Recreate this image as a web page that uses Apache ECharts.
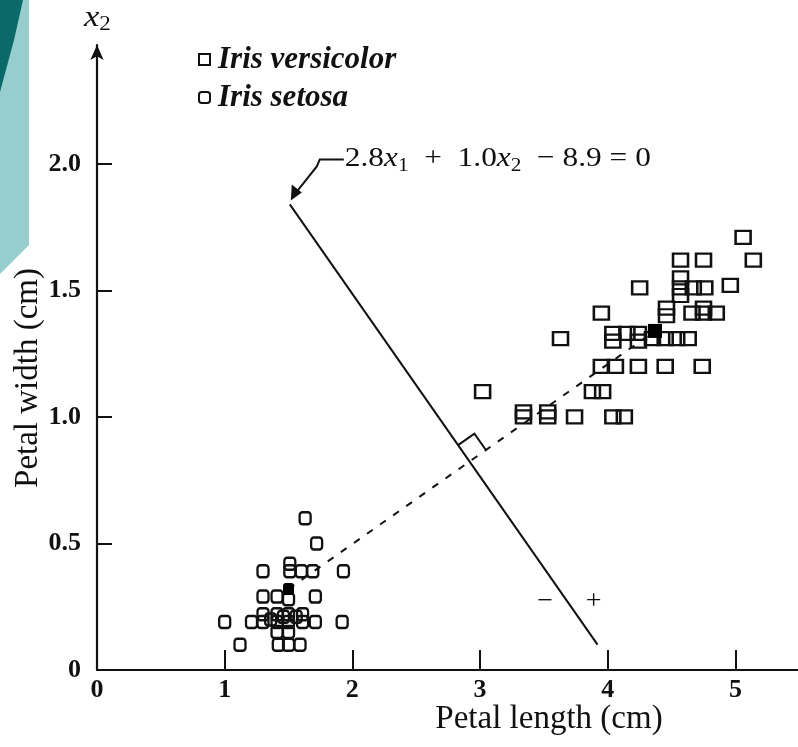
<!DOCTYPE html>
<html>
<head>
<meta charset="utf-8">
<script src="https://cdn.jsdelivr.net/npm/echarts@6/dist/echarts.min.js"></script>
<style>
  html, body { margin: 0; padding: 0; background: #fff; }
  #main { width: 798px; height: 747px; }
</style>
</head>
<body>
<div id="main"></div>
<script>
// petal length / width
var versicolor = [
  [5.06, 1.71],
  [4.57, 1.62], [4.75, 1.62], [5.14, 1.62],
  [4.25, 1.51], [4.57, 1.55], [4.57, 1.51], [4.57, 1.48], [4.67, 1.51], [4.76, 1.51], [4.96, 1.52],
  [3.95, 1.41], [4.46, 1.43], [4.46, 1.40], [4.66, 1.41], [4.75, 1.43], [4.75, 1.41], [4.85, 1.41],
  [3.63, 1.31], [4.04, 1.33], [4.04, 1.30], [4.15, 1.33], [4.24, 1.33], [4.24, 1.30], [4.35, 1.31],
  [4.45, 1.31], [4.54, 1.31], [4.63, 1.31],
  [3.95, 1.20], [4.06, 1.20], [4.24, 1.20], [4.45, 1.20], [4.74, 1.20],
  [3.02, 1.10], [3.88, 1.10], [3.96, 1.10],
  [3.34, 1.02], [3.34, 1.00], [3.53, 1.02], [3.53, 1.00], [3.74, 1.00], [4.04, 1.00], [4.13, 1.00]
];
var setosa = [
  [1.63, 0.60], [1.72, 0.50],
  [1.30, 0.39], [1.51, 0.42], [1.51, 0.39], [1.60, 0.39], [1.69, 0.39], [1.93, 0.39],
  [1.30, 0.29], [1.41, 0.29], [1.50, 0.28], [1.71, 0.29],
  [1.00, 0.19], [1.21, 0.19], [1.30, 0.19], [1.41, 0.19], [1.50, 0.19], [1.61, 0.19], [1.71, 0.19], [1.92, 0.19],
  [1.30, 0.22], [1.41, 0.22], [1.50, 0.22], [1.61, 0.22], [1.36, 0.20], [1.46, 0.21], [1.56, 0.21],
  [1.41, 0.15], [1.50, 0.15],
  [1.12, 0.10], [1.42, 0.10], [1.50, 0.10], [1.59, 0.10]
];
var setosaMean = [1.50, 0.32];
var versicolorMean = [4.37, 1.34];
var boundary = [[1.51, 1.84], [3.92, 0.10]];
var signs = [['−', 3.51, 0.27], ['+', 3.89, 0.27]];
var xTicks = [1, 2, 3, 4, 5];
var xLabels = [0, 1, 2, 3, 4, 5];
var yTicks = [0.5, 1.0, 1.5, 2.0];
var yLabels = [0, 0.5, 1.0, 1.5, 2.0];

var serif = 'Liberation Serif';
var myChart = echarts.init(document.getElementById('main'));
var option = {
  backgroundColor: '#fff',
  animation: false,
  textStyle: { fontFamily: serif, color: '#111' },
  grid: { left: 97, right: 0, top: 45, bottom: 77 },
  legend: {
    orient: 'vertical',
    left: 193,
    top: 39,
    itemGap: 7,
    itemWidth: 11,
    itemHeight: 11,
    textStyle: { fontFamily: serif, fontStyle: 'italic', fontWeight: 'bold', fontSize: 31, color: '#111', padding: [0, 0, 0, 3] },
    data: [
      { name: 'Iris versicolor', icon: 'rect', itemStyle: { color: '#fff', borderColor: '#111', borderWidth: 2 } },
      { name: 'Iris setosa', icon: 'roundRect', itemStyle: { color: '#fff', borderColor: '#111', borderWidth: 2 } }
    ]
  },
  xAxis: {
    type: 'value',
    min: 0,
    max: 5.49,
    splitLine: { show: false },
    axisLine: { lineStyle: { color: '#111', width: 2.2 } },
    axisTick: { inside: true, length: 20, customValues: xTicks, lineStyle: { color: '#111', width: 2 } },
    axisLabel: { customValues: xLabels, margin: 7, fontSize: 26, fontWeight: 'bold', color: '#111', fontFamily: serif }
  },
  yAxis: {
    type: 'value',
    min: 0,
    max: 2.47,
    splitLine: { show: false },
    axisLine: { symbol: ['none', 'arrow'], symbolSize: [10, 15], lineStyle: { color: '#111', width: 2.2 } },
    axisTick: { inside: true, length: 15, customValues: yTicks, lineStyle: { color: '#111', width: 2 } },
    axisLabel: {
      customValues: yLabels, margin: 16, fontSize: 26, fontWeight: 'bold', color: '#111', fontFamily: serif,
      formatter: function (v) { return v === 0 ? '0' : v.toFixed(1); }
    }
  },
  series: [
    {
      name: 'boundary',
      type: 'line',
      data: boundary,
      symbol: 'none',
      lineStyle: { color: '#111', width: 2 },
      silent: true
    },
    {
      name: 'means',
      type: 'line',
      data: [setosaMean, versicolorMean],
      symbol: 'none',
      lineStyle: { color: '#111', width: 2, type: [7, 9] },
      silent: true
    },
    {
      name: 'Iris versicolor',
      type: 'scatter',
      data: versicolor,
      symbol: 'rect',
      symbolSize: [15, 13],
      itemStyle: { color: 'rgba(0,0,0,0)', borderColor: '#111', borderWidth: 2.4, opacity: 1 }
    },
    {
      name: 'Iris setosa',
      type: 'scatter',
      data: setosa,
      symbol: 'roundRect',
      symbolSize: [11, 12],
      itemStyle: { color: 'rgba(0,0,0,0)', borderColor: '#111', borderWidth: 2.4, opacity: 1 }
    },
    {
      name: 'versicolor mean',
      type: 'scatter',
      data: [versicolorMean],
      symbol: 'rect',
      symbolSize: [14, 14],
      z: 5,
      itemStyle: { color: '#000', opacity: 1 }
    },
    {
      name: 'setosa mean',
      type: 'scatter',
      data: [setosaMean],
      symbol: 'roundRect',
      symbolSize: [11, 12],
      z: 5,
      itemStyle: { color: '#000', opacity: 1 }
    }
  ]
};
myChart.setOption(option);

// annotations placed from the data through the chart's own scales
function px(p) { return myChart.convertToPixel({ gridIndex: 0 }, p); }
var a = px(boundary[0]), b = px(boundary[1]);
var c = px(setosaMean), d = px(versicolorMean);
// crossing of the two lines
var r = [b[0] - a[0], b[1] - a[1]], s = [d[0] - c[0], d[1] - c[1]];
var den = r[0] * s[1] - r[1] * s[0];
var t = ((c[0] - a[0]) * s[1] - (c[1] - a[1]) * s[0]) / den;
var X = [a[0] + t * r[0], a[1] + t * r[1]];
var lr = Math.hypot(r[0], r[1]), ls = Math.hypot(s[0], s[1]);
var k = 20;
var u = [-r[0] / lr * k, -r[1] / lr * k];
var w = [s[0] / ls * k, s[1] / ls * k];
var rightAngle = [[X[0] + u[0], X[1] + u[1]], [X[0] + u[0] + w[0], X[1] + u[1] + w[1]], [X[0] + w[0], X[1] + w[1]]];

var tip = [a[0] + 1, a[1] - 4];
var graphic = [
  { type: 'polygon', shape: { points: [[0, 0], [29, 0], [29, 245], [0, 274]] }, style: { fill: '#97cdcc' }, z: 0 },
  { type: 'polygon', shape: { points: [[0, 0], [23, 0], [14, 40], [0, 92]] }, style: { fill: '#0b6a69' }, z: 0 },
  { type: 'polyline', shape: { points: rightAngle }, style: { stroke: '#111', lineWidth: 2, fill: null }, z: 10 },
  { type: 'polyline', shape: { points: [[a[0] + 54, a[1] - 45], [a[0] + 30, a[1] - 45], [a[0] + 27, a[1] - 38], [a[0] + 8, a[1] - 14]] },
    style: { stroke: '#111', lineWidth: 2, fill: null }, z: 10 },
  { type: 'polygon', shape: { points: [tip, [a[0] + 2, a[1] - 20], [a[0] + 12, a[1] - 12]] }, style: { fill: '#111' }, z: 10 },
  {
    type: 'text', x: a[0] + 55, y: a[1] - 60, scaleX: 1.12, z: 10,
    style: {
      text: '{n|2.8}{i|x}{s|1}{n|  +  1.0}{i|x}{s|2}{n|  − 8.9 = 0}',
      rich: {
        n: { fontFamily: serif, fontSize: 28, fill: '#111', verticalAlign: 'top', lineHeight: 34 },
        i: { fontFamily: serif, fontSize: 28, fontStyle: 'italic', fill: '#111', verticalAlign: 'top', lineHeight: 34 },
        s: { fontFamily: serif, fontSize: 19, fill: '#111', verticalAlign: 'top', lineHeight: 34, padding: [12, 0, 0, 0] }
      }
    }
  },
  {
    type: 'text', x: 84, y: 3, scaleX: 1.15, z: 10,
    style: {
      text: '{i|x}{s|2}',
      rich: {
        i: { fontFamily: serif, fontSize: 30, fontStyle: 'italic', fill: '#111', verticalAlign: 'top', lineHeight: 36 },
        s: { fontFamily: serif, fontSize: 20, fill: '#111', verticalAlign: 'top', lineHeight: 36, padding: [12, 0, 0, 0] }
      }
    }
  },
  {
    type: 'text', x: 549, y: 719, z: 10,
    style: { text: 'Petal length (cm)', fontFamily: serif, fontSize: 33, fill: '#111', align: 'center', verticalAlign: 'middle' }
  },
  {
    type: 'text', x: 28, y: 378, rotation: Math.PI / 2, z: 10,
    style: { text: 'Petal width (cm)', fontFamily: serif, fontSize: 33, fill: '#111', align: 'center', verticalAlign: 'middle' }
  }
];
signs.forEach(function (g) {
  var p = px([g[1], g[2]]);
  graphic.push({
    type: 'text', x: p[0], y: p[1], z: 10,
    style: { text: g[0], fontFamily: serif, fontSize: 28, fill: '#111', align: 'center', verticalAlign: 'middle' }
  });
});
myChart.setOption({ graphic: graphic });
</script>
</body>
</html>
